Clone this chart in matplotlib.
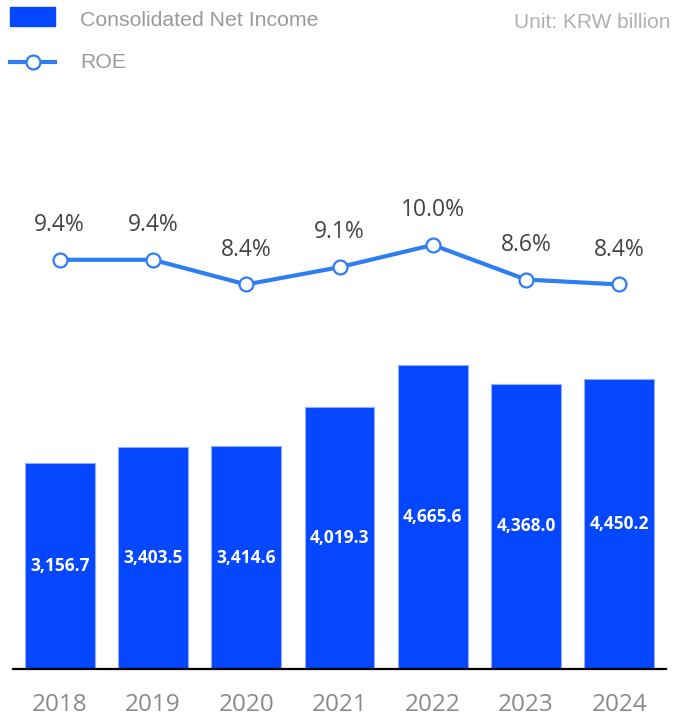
import matplotlib
matplotlib.use("Agg")
import matplotlib.pyplot as plt
from matplotlib.patches import Rectangle
from matplotlib.lines import Line2D

years = ["2018", "2019", "2020", "2021", "2022", "2023", "2024"]
net_income = [3156.7, 3403.5, 3414.6, 4019.3, 4665.6, 4368.0, 4450.2]
roe = [9.4, 9.4, 8.4, 9.1, 10.0, 8.6, 8.4]

BAR_C = "#0546ff"
LINE_C = "#2f7df2"

W, H = 674, 717
fig = plt.figure(figsize=(W / 100, H / 100), dpi=100)

def fx(px):
    return px / W

def fy(py):
    return 1 - py / H

ax_left, ax_right = 13, 666
ax_top, ax_bot = 100, 669
ax = fig.add_axes([fx(ax_left), fy(ax_bot), fx(ax_right - ax_left), (ax_bot - ax_top) / H])
x = list(range(len(years)))
bars = ax.bar(x, net_income, width=0.75, color=BAR_C, edgecolor="#8fb0ff", linewidth=0.8, zorder=2)
ax.set_xlim(-0.5, 6.5)
ax.set_ylim(0, 8720)
for s in ["top", "left", "right"]:
    ax.spines[s].set_visible(False)
ax.spines["bottom"].set_color("black")
ax.spines["bottom"].set_linewidth(1.6)
ax.set_yticks([])
ax.set_xticks(x)
ax.set_xticklabels(years, fontsize=17.5, color="#8a8a8a", family="Open Sans")
ax.tick_params(axis="x", length=0, pad=17)

for xi, v in zip(x, net_income):
    ax.text(xi, v / 2, f"{v:,.1f}", ha="center", va="center", color="white",
            fontsize=12.5, fontweight="bold", family="Open Sans", zorder=3)

ax2 = ax.twinx()
ax2.set_ylim(-7.17, 15.87)
ax2.axis("off")
ax2.plot(x, roe, color=LINE_C, linewidth=3, marker="o", markersize=10,
         markerfacecolor="white", markeredgecolor=LINE_C, markeredgewidth=1.6, zorder=4)
for xi, v in zip(x, roe):
    ax2.annotate(f"{v:.1f}%", (xi, v), xytext=(0, 25), textcoords="offset points",
                 ha="center", va="center", fontsize=16.5, color="#444444", family="Open Sans")

# Legend
fig.patches.append(Rectangle((fx(10), fy(26)), fx(45), 19 / H, transform=fig.transFigure,
                             color=BAR_C, figure=fig))
fig.text(fx(80), fy(21), "Consolidated Net Income", ha="left", va="center",
         fontsize=15.3, color="#9a9a9a", family="Liberation Sans")
fig.lines.append(Line2D([fx(10), fx(55)], [fy(62), fy(62)], transform=fig.transFigure,
                        color=LINE_C, linewidth=3, figure=fig))
fig.lines.append(Line2D([fx(33)], [fy(62)], transform=fig.transFigure, marker="o",
                        markersize=10, markerfacecolor="white", markeredgecolor=LINE_C,
                        markeredgewidth=1.6, linestyle="none", figure=fig))
fig.text(fx(80), fy(63), "ROE", ha="left", va="center", fontsize=15.3, color="#9a9a9a",
         family="Liberation Sans")
fig.text(fx(670), fy(22), "Unit: KRW billion", ha="right", va="center", fontsize=15,
         color="#b0b0b0", family="Liberation Sans")

fig.savefig("out.png", dpi=100)
